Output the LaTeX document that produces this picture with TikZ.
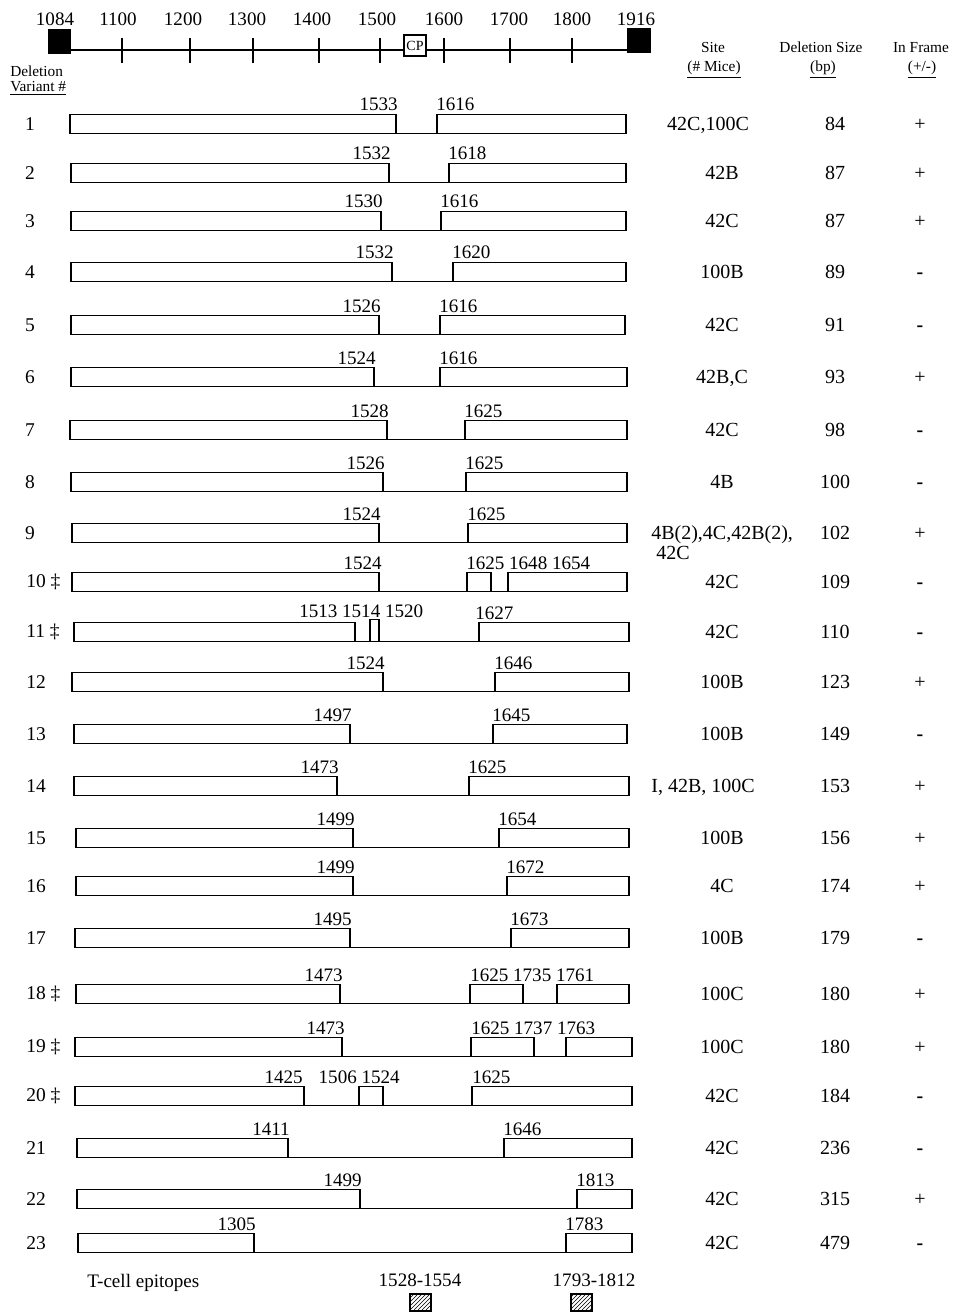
\documentclass[tikz,border=0pt]{standalone}
\usepackage{fontspec}
\setmainfont{Liberation Serif}
\usetikzlibrary{patterns}
\newcommand\tworow[7]{%
 \draw[gapline] (#3,#1+9.5) -- (#4,#1+9.5);
 \draw[box] (#2,#1-9.5) rectangle (#3,#1+9.5);
 \draw[box] (#4,#1-9.5) rectangle (#5,#1+9.5);
 \node[lbl,anchor=base east] at (#3+2,#1-13) {#6};
 \node[lbl,anchor=base west] at (#4-1,#1-13) {#7};}
\newcommand\rowinfo[5]{%
 \node[col] at (#2,#1+6.5) {#3};
 \node[col] at (835,#1+6.5) {#4};
 \node[col] at (920,#1+6.5) {#5};}
\newcommand\onenum[2]{\node[num] at (30,#1) {#2};}
\newcommand\twonum[2]{\node[num,anchor=west] at (26,#1) {#2};}
\newcommand\dash{\textbf{-}}
\begin{document}
\begin{tikzpicture}[x=0.75pt,y=-0.75pt,
  box/.style={draw=black, line width=1.4pt},
  gapline/.style={draw=black, line width=1.1pt},
  lbl/.style={inner sep=0pt, font=\fontsize{14.3}{16}\selectfont},
  col/.style={inner sep=0pt, anchor=base, font=\fontsize{15}{17}\selectfont},
  hdr/.style={inner sep=0pt, anchor=base, font=\fontsize{11.5}{14}\selectfont},
  num/.style={inner sep=0pt, font=\fontsize{14.6}{16}\selectfont},
  tick/.style={draw=black, line width=1.2pt}]
\useasboundingbox (0,0) rectangle (952,1312);

% scale bar
\draw[tick] (71,50) -- (627,50);
\fill (48,29) rectangle (71,54);
\fill (627,28) rectangle (651,53);
\foreach \x in {122,190,253,319,380,444,510,572} \draw[tick] (\x,38) -- (\x,63);
\draw[fill=white, line width=1pt] (404,35) rectangle (426,56);
\node[inner sep=0pt, font=\fontsize{10.5}{12}\selectfont] (cp) at (415,46) {CP};
\foreach \x/\t in {55/1084,118/1100,183/1200,247/1300,312/1400,377/1500,444/1600,509/1700,572/1800,636/1916}
  \node[lbl] at (\x,19) {\t};

% headers
\node[hdr,anchor=base west] at (10,77) {Deletion};
\node[hdr,anchor=base west] at (10,92) {\underline{Variant \#}};
\node[hdr] at (713,53) {Site};
\node[hdr] at (714,72) {\underline{(\# Mice)}};
\node[hdr] at (821,53) {Deletion Size};
\node[hdr] at (823,72) {\underline{(bp)}};
\node[hdr] at (921,53) {In Frame};
\node[hdr] at (922,72) {\underline{(+/-)}};

% rows
\onenum{124}{1}\tworow{124}{70}{396}{437}{626}{1533}{1616}\rowinfo{124}{708}{42C,100C}{84}{+}
\onenum{173}{2}\tworow{173}{71}{389}{449}{626}{1532}{1618}\rowinfo{173}{722}{42B}{87}{+}
\onenum{221}{3}\tworow{221}{71}{381}{441}{626}{1530}{1616}\rowinfo{221}{722}{42C}{87}{+}
\onenum{272}{4}\tworow{272}{71}{392}{453}{626}{1532}{1620}\rowinfo{272}{722}{100B}{89}{\dash}
\onenum{325}{5}\tworow{325}{71}{379}{440}{625}{1526}{1616}\rowinfo{325}{722}{42C}{91}{\dash}
\onenum{377}{6}\tworow{377}{71}{374}{440}{627}{1524}{1616}\rowinfo{377}{722}{42B,C}{93}{+}
\onenum{430}{7}\tworow{430}{70}{387}{465}{627}{1528}{1625}\rowinfo{430}{722}{42C}{98}{\dash}
\onenum{482}{8}\tworow{482}{71}{383}{466}{627}{1526}{1625}\rowinfo{482}{722}{4B}{100}{\dash}
\onenum{533}{9}\tworow{533}{72}{379}{468}{627}{1524}{1625}
\node[col,anchor=base west] at (651,539.5) {4B(2),4C,42B(2),};
\node[col,anchor=base west] at (656,559.5) {42C};
\node[col] at (835,539.5) {102};\node[col] at (920,539.5) {+};

% row 10
\twonum{582}{10 ‡}
\draw[gapline] (379,591.5) -- (508,591.5);
\draw[box] (72,572.5) rectangle (379,591.5);
\draw[box] (467,572.5) rectangle (491,591.5);
\draw[box] (508,572.5) rectangle (627,591.5);
\node[lbl,anchor=base east] at (382,569) {1524};
\node[lbl,anchor=base west] at (466,569) {1625 1648 1654};
\rowinfo{582}{722}{42C}{109}{\dash}

% row 11
\twonum{632}{11 ‡}
\draw[gapline] (355,641.5) -- (479,641.5);
\draw[box] (74,622.5) rectangle (355,641.5);
\draw[box] (370,619.5) rectangle (379,641.5);
\draw[box] (479,622.5) rectangle (629,641.5);
\node[lbl,anchor=base west] at (299,617) {1513 1514 1520};
\node[lbl,anchor=base west] at (475,619) {1627};
\rowinfo{632}{722}{42C}{110}{\dash}

\twonum{682}{12}\tworow{682}{72}{383}{495}{629}{1524}{1646}\rowinfo{682}{722}{100B}{123}{+}
\twonum{734}{13}\tworow{734}{74}{350}{493}{627}{1497}{1645}\rowinfo{734}{722}{100B}{149}{\dash}
\twonum{786}{14}\tworow{786}{74}{337}{469}{629}{1473}{1625}\rowinfo{786}{703}{I, 42B, 100C}{153}{+}
\twonum{838}{15}\tworow{838}{76}{353}{499}{629}{1499}{1654}\rowinfo{838}{722}{100B}{156}{+}
\twonum{886}{16}\tworow{886}{76}{353}{507}{629}{1499}{1672}\rowinfo{886}{722}{4C}{174}{+}
\twonum{938}{17}\tworow{938}{75}{350}{511}{629}{1495}{1673}\rowinfo{938}{722}{100B}{179}{\dash}

% row 18
\twonum{994}{18 ‡}
\draw[gapline] (340,1003.5) -- (557,1003.5);
\draw[box] (76,984.5) rectangle (340,1003.5);
\draw[box] (470,984.5) rectangle (523,1003.5);
\draw[box] (557,984.5) rectangle (629,1003.5);
\node[lbl,anchor=base east] at (343,981) {1473};
\node[lbl,anchor=base west] at (470,981) {1625 1735 1761};
\rowinfo{994}{722}{100C}{180}{+}

% row 19
\twonum{1047}{19 ‡}
\draw[gapline] (342,1056.5) -- (566,1056.5);
\draw[box] (75,1037.5) rectangle (342,1056.5);
\draw[box] (471,1037.5) rectangle (534,1056.5);
\draw[box] (566,1037.5) rectangle (632,1056.5);
\node[lbl,anchor=base east] at (345,1034) {1473};
\node[lbl,anchor=base west] at (471,1034) {1625 1737 1763};
\rowinfo{1047}{722}{100C}{180}{+}

% row 20
\twonum{1096}{20 ‡}
\draw[gapline] (304,1105.5) -- (472,1105.5);
\draw[box] (75,1086.5) rectangle (304,1105.5);
\draw[box] (359,1086.5) rectangle (383,1105.5);
\draw[box] (472,1086.5) rectangle (632,1105.5);
\node[lbl,anchor=base east] at (303,1083) {1425};
\node[lbl,anchor=base east] at (400,1083) {1506 1524};
\node[lbl,anchor=base west] at (472,1083) {1625};
\rowinfo{1096}{722}{42C}{184}{\dash}

\twonum{1148}{21}\tworow{1148}{77}{288}{504}{632}{1411}{1646}\rowinfo{1148}{722}{42C}{236}{\dash}
\twonum{1199}{22}\tworow{1199}{77}{360}{577}{632}{1499}{1813}\rowinfo{1199}{722}{42C}{315}{+}
\twonum{1243}{23}\tworow{1243}{78}{254}{566}{632}{1305}{1783}\rowinfo{1243}{722}{42C}{479}{\dash}

% epitopes
\node[lbl,anchor=west] at (87,1283) {T-cell epitopes};
\node[lbl] at (420,1280) {1528-1554};
\node[lbl] at (594,1280) {1793-1812};
\draw[line width=0.8pt, pattern=north east lines] (410,1294) rectangle (431,1311);
\draw[line width=0.8pt, pattern=north east lines] (571,1294) rectangle (592,1311);
\end{tikzpicture}
\end{document}
